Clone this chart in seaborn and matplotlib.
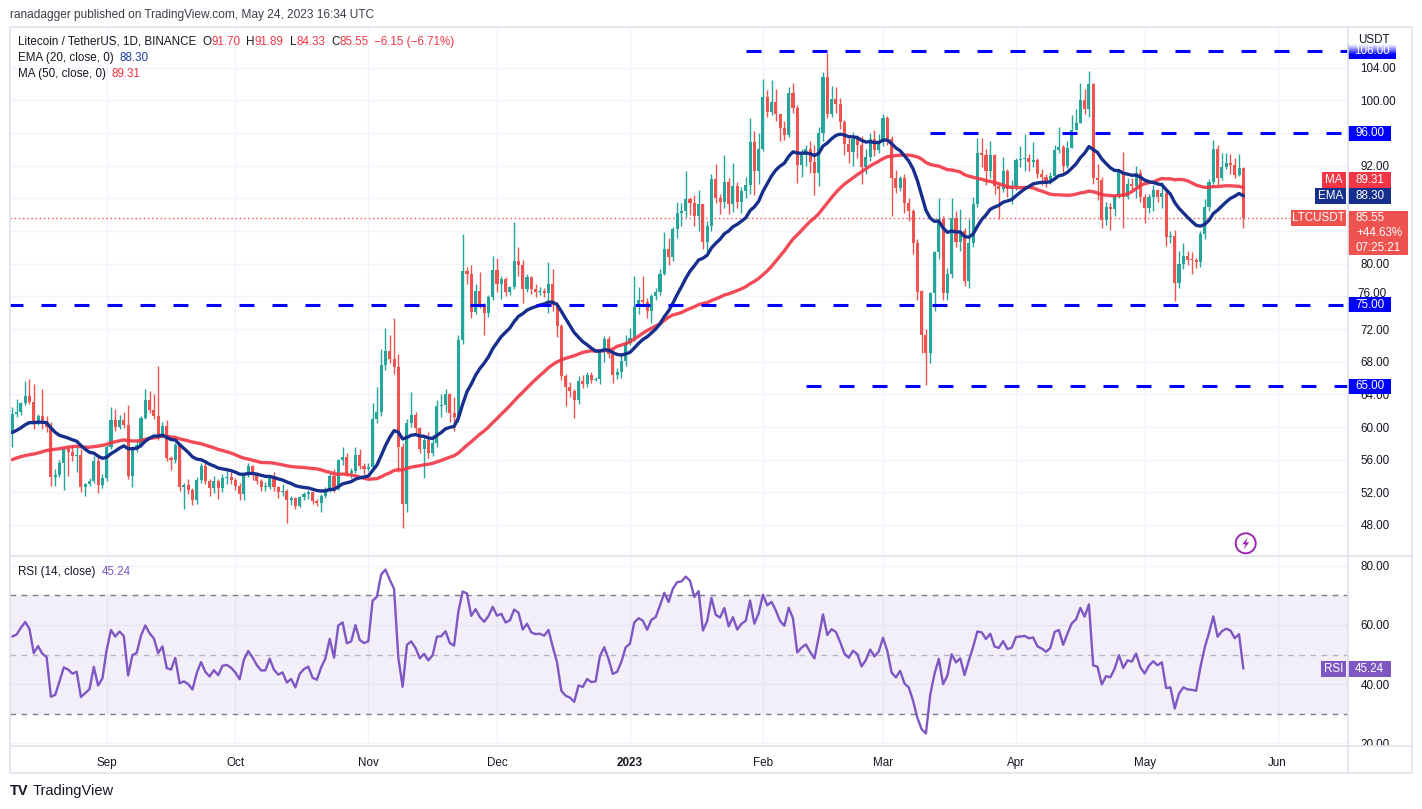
import matplotlib.pyplot as plt
import numpy as np
import pandas as pd
import seaborn as sns
from matplotlib.lines import Line2D
from matplotlib.patches import Rectangle, Ellipse, Polygon
from matplotlib.transforms import blended_transform_factory, Bbox

W, H = 1422, 809

# LTC/USDT daily candles, 2022-08-10 .. 2023-05-24
first_open = 59.2
close = [
	61.6, 61.9, 62.9, 63.8, 63.1, 60.4, 61.3, 60.4, 60.0, 53.9,
	54.1, 55.6, 57.3, 57.0, 56.4, 56.6, 52.6, 53.0, 53.4, 55.8,
	52.9, 53.7, 57.5, 60.9, 60.0, 60.9, 60.3, 54.0, 57.4, 57.8,
	61.1, 63.3, 62.1, 61.3, 58.9, 60.1, 56.2, 55.9, 57.8, 52.6,
	52.9, 52.3, 51.1, 53.5, 55.2, 53.4, 52.5, 53.4, 52.5, 53.8,
	53.9, 53.5, 52.8, 51.8, 54.1, 55.2, 54.4, 53.4, 52.7, 52.7,
	53.9, 52.6, 52.0, 52.2, 51.0, 51.3, 50.3, 51.4, 51.8, 52.0,
	50.9, 50.7, 51.6, 52.3, 54.0, 52.4, 55.9, 56.3, 54.4, 54.6,
	56.6, 55.2, 54.9, 55.1, 61.0, 61.8, 67.6, 69.3, 68.3, 67.4,
	57.6, 50.6, 60.5, 61.5, 59.9, 57.3, 58.4, 56.8, 58.0, 62.6,
	62.7, 64.0, 61.7, 61.2, 70.7, 79.1, 78.7, 74.1, 76.7, 75.0,
	74.0, 75.9, 79.2, 77.5, 78.1, 76.5, 77.1, 80.3, 79.8, 76.9,
	78.4, 76.9, 76.6, 76.7, 76.4, 77.5, 75.0, 72.4, 66.2, 64.9,
	64.4, 63.3, 65.6, 65.3, 66.4, 65.8, 65.9, 69.4, 70.8, 69.0,
	66.4, 66.7, 68.1, 70.3, 70.9, 74.7, 75.6, 75.3, 74.2, 76.0,
	76.5, 78.8, 81.8, 80.8, 84.2, 86.2, 86.4, 87.9, 87.5, 85.9,
	87.3, 82.7, 84.6, 90.4, 88.0, 87.6, 90.0, 87.3, 89.5, 87.6,
	88.9, 89.6, 94.9, 91.3, 94.1, 100.4, 98.6, 99.8, 98.4, 96.6,
	95.8, 100.9, 99.1, 92.1, 93.3, 94.1, 92.5, 91.1, 96.0, 102.9,
	98.4, 100.2, 99.6, 97.4, 94.7, 93.7, 95.3, 94.6, 91.8, 93.1,
	95.3, 93.9, 94.9, 97.8, 95.3, 90.5, 89.3, 90.5, 87.4, 86.4,
	82.6, 76.6, 71.3, 69.1, 76.4, 81.4, 85.5, 76.4, 78.8, 85.6,
	82.7, 84.0, 77.9, 82.5, 87.3, 93.6, 93.3, 91.3, 93.3, 89.5,
	89.1, 91.3, 89.1, 89.5, 92.7, 92.8, 93.0, 92.5, 92.7, 91.0,
	90.6, 90.0, 90.7, 93.9, 94.3, 92.0, 94.2, 96.4, 97.3, 100.1,
	98.9, 102.0, 90.5, 90.2, 85.3, 87.0, 86.7, 88.4, 91.2, 88.2,
	89.8, 89.5, 91.1, 88.2, 86.8, 88.2, 89.0, 88.2, 88.7, 83.3,
	83.4, 77.7, 80.0, 81.0, 80.5, 80.4, 80.2, 83.6, 87.0, 90.0,
	94.0, 90.5, 91.8, 92.4, 92.1, 90.9, 91.7, 85.55,
]
high = [
	62.4, 63.4, 63.1, 65.6, 65.9, 65.3, 61.6, 64.7, 61.4, 60.6,
	54.9, 56.0, 57.6, 57.8, 57.8, 57.5, 57.3, 53.2, 53.8, 56.5,
	56.4, 54.3, 57.9, 62.5, 62.2, 61.5, 61.9, 62.7, 57.7, 58.4,
	61.4, 64.6, 64.4, 64.0, 67.5, 60.6, 60.8, 56.5, 58.0, 58.0,
	53.2, 53.6, 52.5, 53.9, 55.6, 55.6, 53.6, 54.0, 53.6, 54.2,
	54.6, 54.5, 53.8, 53.1, 54.4, 55.6, 55.4, 54.5, 53.6, 53.3,
	54.0, 54.5, 52.8, 53.0, 52.4, 51.6, 51.4, 51.6, 52.0, 52.3,
	52.1, 51.2, 51.8, 52.6, 54.4, 54.8, 56.1, 57.5, 56.8, 55.0,
	57.5, 57.3, 55.6, 55.6, 63.0, 64.9, 69.6, 72.1, 71.3, 73.4,
	68.9, 58.0, 61.0, 64.3, 61.8, 60.0, 58.9, 59.4, 59.0, 63.3,
	64.1, 64.7, 64.2, 63.7, 71.3, 83.7, 79.6, 79.8, 77.5, 79.0,
	75.2, 76.2, 81.0, 80.7, 78.5, 78.4, 77.3, 85.1, 82.0, 80.5,
	78.8, 78.5, 77.5, 77.2, 77.0, 80.2, 79.3, 75.3, 72.6, 66.5,
	65.5, 64.6, 66.2, 66.4, 66.8, 66.8, 66.1, 69.6, 71.1, 71.2,
	69.4, 67.2, 68.9, 71.3, 72.1, 78.5, 77.2, 78.5, 75.8, 76.3,
	77.0, 79.3, 83.9, 83.2, 84.5, 87.6, 87.4, 91.4, 88.2, 88.4,
	89.0, 87.2, 85.2, 91.0, 92.2, 88.6, 93.3, 90.5, 92.3, 90.0,
	89.4, 90.6, 97.9, 96.2, 96.0, 102.6, 101.3, 102.5, 101.4, 98.4,
	97.5, 101.6, 102.1, 99.4, 94.0, 94.6, 95.0, 94.5, 96.8, 103.5,
	105.8, 101.8, 101.7, 100.3, 97.6, 95.4, 96.1, 95.8, 95.6, 94.0,
	96.0, 96.4, 95.9, 98.4, 98.1, 95.6, 91.5, 90.8, 91.0, 88.0,
	86.7, 83.0, 76.8, 72.0, 76.6, 81.6, 88.1, 85.8, 79.5, 88.1,
	86.5, 86.7, 84.4, 85.5, 88.2, 95.4, 95.4, 94.0, 95.0, 93.5,
	89.8, 93.1, 91.6, 90.3, 93.0, 94.4, 95.9, 93.4, 94.9, 92.9,
	91.6, 91.0, 91.2, 94.5, 96.7, 94.6, 95.0, 98.2, 99.0, 102.2,
	101.4, 103.6, 102.1, 92.2, 90.6, 87.6, 87.5, 88.6, 91.4, 93.7,
	90.5, 90.5, 92.0, 91.6, 88.5, 88.6, 89.6, 89.2, 90.0, 89.0,
	84.0, 84.1, 81.5, 82.5, 81.5, 81.4, 80.7, 84.0, 87.9, 90.4,
	95.2, 94.6, 93.6, 93.6, 93.4, 93.0, 93.4, 91.89,
]
low = [
	57.6, 61.2, 61.5, 62.7, 62.8, 59.7, 60.2, 59.7, 59.4, 52.8,
	52.8, 53.9, 52.3, 54.0, 55.8, 54.5, 52.1, 51.6, 52.8, 53.2,
	51.9, 52.5, 53.4, 57.3, 59.5, 59.8, 59.9, 53.6, 52.7, 57.0,
	57.5, 61.0, 61.7, 61.0, 58.4, 58.7, 55.8, 54.7, 55.6, 52.2,
	50.0, 51.8, 50.4, 50.6, 53.2, 53.0, 51.5, 51.9, 51.2, 52.0,
	53.0, 53.0, 52.3, 51.1, 51.0, 53.9, 53.5, 53.0, 52.2, 52.2,
	52.4, 52.2, 51.3, 51.5, 48.3, 50.4, 50.0, 50.2, 51.0, 51.2,
	50.6, 50.3, 49.6, 51.3, 52.0, 52.0, 52.3, 55.4, 54.0, 53.8,
	54.4, 54.8, 54.2, 54.6, 54.8, 60.5, 61.3, 67.0, 67.8, 66.5,
	54.5, 47.6, 49.6, 60.0, 59.2, 56.8, 53.8, 56.2, 56.4, 57.5,
	61.2, 61.8, 60.6, 59.5, 60.6, 70.2, 77.5, 73.3, 73.8, 74.6,
	71.3, 73.5, 75.6, 76.5, 75.7, 76.0, 76.2, 76.9, 78.5, 75.2,
	76.5, 76.3, 75.9, 76.2, 75.9, 74.0, 74.2, 71.0, 65.8, 62.6,
	63.7, 61.1, 62.8, 64.8, 64.9, 65.4, 65.6, 65.3, 68.0, 68.5,
	65.4, 65.9, 66.0, 67.5, 70.0, 70.5, 73.8, 74.8, 73.3, 72.8,
	75.5, 76.2, 78.6, 79.8, 80.3, 83.2, 84.6, 85.7, 86.0, 84.6,
	84.0, 81.8, 81.3, 84.0, 87.4, 86.1, 86.8, 86.1, 86.3, 86.8,
	86.2, 88.0, 88.5, 88.4, 89.8, 93.8, 98.0, 98.2, 97.5, 95.0,
	95.2, 95.5, 98.5, 89.9, 90.6, 92.0, 91.1, 88.4, 89.5, 95.0,
	97.9, 98.0, 98.5, 96.5, 93.3, 92.4, 92.0, 93.0, 89.8, 91.0,
	92.6, 93.2, 93.6, 94.4, 94.5, 85.8, 88.7, 88.9, 86.2, 85.2,
	81.2, 75.6, 69.1, 65.1, 67.8, 74.2, 80.6, 75.5, 75.6, 78.2,
	82.0, 81.6, 77.3, 77.0, 82.0, 86.9, 91.8, 89.6, 90.5, 88.5,
	85.5, 88.8, 88.2, 87.3, 89.0, 91.9, 91.4, 91.4, 91.8, 90.5,
	89.7, 89.4, 89.8, 90.3, 93.6, 91.2, 91.7, 95.5, 96.6, 99.1,
	98.3, 98.0, 89.8, 87.8, 84.4, 84.8, 84.1, 85.9, 88.0, 84.4,
	87.9, 88.9, 88.0, 87.6, 85.0, 86.2, 86.4, 87.6, 86.8, 82.2,
	82.5, 75.4, 77.0, 79.4, 79.8, 78.8, 79.5, 79.6, 83.0, 86.5,
	89.8, 89.7, 90.2, 91.6, 91.0, 90.5, 90.8, 84.33,
]
# closes before the visible window (2022-06-21 .. 2022-08-09), only used
# to warm up the EMA / MA / RSI so they start where the chart shows them
warmup_close = [
	54, 52, 55, 57, 58, 56, 55, 53, 52, 50,
	51, 52, 52, 53, 53, 54, 56, 55, 54, 52, 50, 49, 51, 52, 53, 55,
	55, 59, 59, 58, 58, 56, 57, 58, 54, 53, 58, 60, 61, 61, 59,
	59, 58, 59, 60, 62, 61, 61, 63, 60,
]

levels = [106.0, 96.0, 75.0, 65.0]
level_start = ["2023-01-28", "2023-03-12", "2022-08-09", "2023-02-11"]

month_ticks = ["2022-09-01", "2022-10-01", "2022-11-01", "2022-12-01", "2023-01-01",
	"2023-02-01", "2023-03-01", "2023-04-01", "2023-05-01", "2023-06-01"]
month_labels = ["Sep", "Oct", "Nov", "Dec", "2023", "Feb", "Mar", "Apr", "May", "Jun"]
price_ticks = list(range(48, 105, 4))
hidden_price_ticks = [84, 88, 96]  # sit under the price tags on the axis
nudged_price_ticks = [76]  # pushed up a little above the 75.00 tag
rsi_ticks = [20, 40, 60, 80]

GREEN = "#26A69A"
RED = "#EF5350"
EMA_C = "#172F8C"
MA_C = "#F23645"
LVL_C = "#0000FF"
RSI_C = "#7E57C2"
TXT = "#131722"
GRID = "#F0F3FA"
BORDER = "#E0E3EB"

dates = pd.date_range("2022-08-10", periods=len(close), freq="D")
df = pd.DataFrame({"date": dates, "close": close, "high": high, "low": low})
df["open"] = [first_open] + close[:-1]
df["high"] = np.maximum(df["high"], df[["open", "close"]].max(axis=1))
df["low"] = np.minimum(df["low"], df[["open", "close"]].min(axis=1))

full = pd.Series(warmup_close + close, dtype=float)
n_w = len(warmup_close)
df["ema"] = full.ewm(span=20, adjust=False).mean().iloc[n_w:].values
df["ma"] = full.rolling(50, min_periods=1).mean().iloc[n_w:].values
delta = full.diff()
gain = delta.clip(lower=0).ewm(alpha=1 / 14, adjust=False).mean()
loss = (-delta.clip(upper=0)).ewm(alpha=1 / 14, adjust=False).mean()
df["rsi"] = (100 - 100 / (1 + gain / loss)).iloc[n_w:].values

sns.set_theme(style="white")
plt.rcParams["font.family"] = ["Liberation Sans", "DejaVu Sans"]

fig = plt.figure(figsize=(W / 100, H / 100), dpi=100)
fig.patch.set_facecolor("white")


def fig_rect(x0, y0, x1, y1):
	return [x0 / W, 1 - y1 / H, (x1 - x0) / W, (y1 - y0) / H]


PLOT_L, PLOT_R = 10, 1348
ax = fig.add_axes(fig_rect(PLOT_L, 27, PLOT_R, 556))
rax = fig.add_axes(fig_rect(PLOT_L, 556, PLOT_R, 746), sharex=ax)

t0 = dates[0]
xlim = (t0 - pd.Timedelta(days=0.54), t0 + pd.Timedelta(days=311.4))
ax.set_xlim(xlim)
ax.set_ylim(44.2, 109.0)
rax.set_ylim(19.1, 83.3)

for a in (ax, rax):
	for s in a.spines.values():
		s.set_visible(False)
	a.set_facecolor("white")

mt = pd.to_datetime(month_ticks)
for a in (ax, rax):
	for d in mt:
		a.axvline(d, color=GRID, lw=1, zorder=0)
for v in price_ticks:
	ax.axhline(v, color=GRID, lw=1, zorder=0)
for v in rsi_ticks:
	rax.axhline(v, color=GRID, lw=1, zorder=0)

# candles
colors = np.where(df["close"] >= df["open"], GREEN, RED)
ax.vlines(df["date"], df["low"], df["high"], colors=colors, linewidth=1, zorder=3)
body = (df["close"] - df["open"]).abs().clip(lower=0.12)
ax.bar(df["date"], body, bottom=df[["open", "close"]].min(axis=1), width=0.72,
	color=colors, linewidth=0, zorder=4)

sns.lineplot(x=df["date"], y=df["ma"], ax=ax, color=MA_C, linewidth=2.4, alpha=0.9, zorder=5)
sns.lineplot(x=df["date"], y=df["ema"], ax=ax, color=EMA_C, linewidth=2.4, zorder=6)

for v, start in zip(levels, level_start):
	ax.plot([pd.Timestamp(start), xlim[1]], [v, v], color=LVL_C, lw=2.2,
		dashes=(4.9, 5.9), zorder=7, dash_capstyle="butt")

last = df["close"].iloc[-1]
ax.axhline(last, xmin=0, xmax=(1290 - PLOT_L) / (PLOT_R - PLOT_L), color=RED, lw=1,
	linestyle=(0, (1, 2)), zorder=2)

# RSI pane
rax.axhspan(30, 70, color=RSI_C, alpha=0.09, lw=0, zorder=0)
for v, al in [(70, 1.0), (30, 1.0), (50, 0.5)]:
	rax.axhline(v, color="#787B86", lw=1, dashes=(4, 4), alpha=al, zorder=1)
sns.lineplot(x=df["date"], y=df["rsi"], ax=rax, color=RSI_C, linewidth=1.7, zorder=3)

for a in (ax, rax):
	a.set_xlabel("")
	a.set_ylabel("")

# axes ticks
shown_ticks = [v for v in price_ticks if v not in hidden_price_ticks + nudged_price_ticks]
ax.yaxis.tick_right()
ax.set_yticks(shown_ticks)
ax.set_yticklabels([f"{v:.2f}" for v in shown_ticks])
rax.yaxis.tick_right()
rax.set_yticks(rsi_ticks)
rax.set_yticklabels([f"{v:.2f}" for v in rsi_ticks])
for a in (ax, rax):
	a.tick_params(axis="y", length=0, pad=9, labelsize=8.4, labelcolor=TXT)
ax.tick_params(axis="x", length=0, labelbottom=False)
rax.set_xticks(mt)
rax.set_xticklabels(month_labels)
rax.tick_params(axis="x", length=0, pad=8, labelsize=8.4, labelcolor=TXT)
for lbl in rax.get_xticklabels():
	if lbl.get_text() == "2023":
		lbl.set_fontweight("bold")

tr_axis = blended_transform_factory(fig.transFigure, ax.transData)
upp_price = (109.0 - 44.2) / (556 - 27)
for v in nudged_price_ticks:
	ax.text(1357 / W, v + 2 * upp_price, f"{v:.2f}", transform=tr_axis, ha="left",
		va="center", fontsize=8.4, color=TXT, clip_on=False, zorder=8)

# the lowest RSI label is cut by the time axis, as on the reference
clip = Bbox.from_extents(PLOT_R, H - 746, W, H - 556)
for lbl in rax.get_yticklabels():
	lbl.set_clip_box(clip)
	lbl.set_clip_on(True)

# frame lines
for (x0, y0, x1, y1) in [(10, 27, 1412, 27), (10, 773, 1412, 773), (10, 27, 10, 773),
		(1412, 27, 1412, 773), (PLOT_R, 27, PLOT_R, 773), (10, 556, 1412, 556),
		(10, 746, 1412, 746)]:
	fig.add_artist(Line2D([x0 / W, x1 / W], [1 - y0 / H, 1 - y1 / H], color=BORDER, lw=1.2,
		transform=fig.transFigure, zorder=1))


def tag(a, y, text, fc, x0, x1, h_px, yoff_px=0.0, tc="white", fs=8.4, lines=None, top_px=None):
	lo, hi = a.get_ylim()
	upp = (hi - lo) / (a.get_position().height * H)
	tr = blended_transform_factory(fig.transFigure, a.transData)
	yc = y + yoff_px * upp
	if top_px is not None:
		y_top = y + top_px * upp
	else:
		y_top = yc + h_px / 2 * upp
	y_bot = y_top - h_px * upp
	a.add_patch(Rectangle((x0 / W, y_bot), (x1 - x0) / W, y_top - y_bot, transform=tr,
		facecolor=fc, edgecolor="none", clip_on=False, zorder=20))
	if lines is None:
		a.text((x0 + x1) / 2 / W, yc, text, transform=tr, ha="center", va="center",
			color=tc, fontsize=fs, clip_on=False, zorder=21)
	else:
		for i, s in enumerate(lines):
			a.text(1356 / W, y - i * 15 * upp, s, transform=tr, ha="left", va="center",
				color=tc, fontsize=fs, clip_on=False, zorder=21)


tag(ax, 106.0, "106.00", LVL_C, 1348, 1396, 15)
tag(ax, 96.0, "96.00", LVL_C, 1348, 1391, 15)
tag(ax, 75.0, "75.00", LVL_C, 1348, 1391, 15)
tag(ax, 65.0, "65.00", LVL_C, 1348, 1391, 15)
ma_last = 89.31
ema_last = 88.30
tag(ax, ma_last, "MA", MA_C, 1322, 1346, 16, yoff_px=8)
tag(ax, ma_last, f"{ma_last:.2f}", MA_C, 1348, 1391, 16, yoff_px=8)
tag(ax, ema_last, "EMA", EMA_C, 1315, 1346, 16)
tag(ax, ema_last, f"{ema_last:.2f}", EMA_C, 1348, 1391, 16)
tag(ax, last, "LTCUSDT", RED, 1291, 1346, 16)
tag(ax, last, "", RED, 1348, 1408, 44, top_px=7,
	lines=[f"{last:.2f}", "+44.63%", "07:25:21"])
rsi_last = 45.24
tag(rax, rsi_last, "RSI", RSI_C, 1321, 1346, 16)
tag(rax, rsi_last, f"{rsi_last:.2f}", RSI_C, 1348, 1391, 16)

# white fade over the top label that scrolls under the currency caption
for yy in range(28, 56):
	alpha = float(np.clip((54 - yy) / 10, 0, 0.97))
	if alpha <= 0:
		continue
	fig.add_artist(Rectangle((1349 / W, 1 - (yy + 1) / H), 62 / W, 1 / H,
		transform=fig.transFigure, facecolor="white", edgecolor="none", alpha=alpha,
		linewidth=0, zorder=50))
fig.text(1358 / W, 1 - 40 / H, "USDT", fontsize=8.4, color=TXT, ha="left", va="center", zorder=60)

renderer = fig.canvas.get_renderer()


def chain_text(x_px, y_px, pieces, fs, weight="normal"):
	x = x_px
	for s, color, gap in pieces:
		t = fig.text(x / W, 1 - y_px / H, s, color=color, fontsize=fs, ha="left",
			va="center", fontweight=weight)
		bb = t.get_window_extent(renderer=renderer)
		x += bb.width + gap


chain_text(10, 15, [("ranadagger published on TradingView.com, May 24, 2023 16:34 UTC", "#3B3E48", 0)], 8.6)
chain_text(18, 42, [
	("Litecoin / TetherUS, 1D, BINANCE", TXT, 6),
	("O", TXT, 0), ("91.70", MA_C, 6),
	("H", TXT, 0), ("91.89", MA_C, 6),
	("L", TXT, 0), ("84.33", MA_C, 6),
	("C", TXT, 0), ("85.55", MA_C, 5),
	("\u22126.15 (\u22126.71%)", MA_C, 0),
], 8.4)
chain_text(18, 58, [("EMA (20, close, 0)", TXT, 6), ("88.30", "#1E3FA0", 0)], 8.4)
chain_text(18, 74, [("MA (50, close, 0)", TXT, 6), ("89.31", MA_C, 0)], 8.4)
chain_text(18, 572, [("RSI (14, close)", TXT, 6), ("45.24", RSI_C, 0)], 8.4)

# footer logo
chain_text(10, 791, [("TV", TXT, 5)], 10.5, weight="bold")
chain_text(33, 791, [("TradingView", TXT, 0)], 10.5)

# lightning marker at the bottom of the price pane
cx, cy, r = 1245.7, 543.3, 10
fig.add_artist(Ellipse((cx / W, 1 - cy / H), 2 * r / W, 2 * r / H, transform=fig.transFigure,
	fill=False, edgecolor="#9C27B0", lw=1.4, zorder=30))
bolt = [(2.0, -6.0), (-3.5, 1.0), (-0.3, 1.0), (-2.0, 6.0), (3.5, -1.0), (0.3, -1.0)]
fig.add_artist(Polygon([((cx + bx) / W, 1 - (cy + by) / H) for bx, by in bolt],
	closed=True, transform=fig.transFigure, facecolor="#9C27B0", edgecolor="none", zorder=31))

fig.savefig("out.png", dpi=100, facecolor="white")
